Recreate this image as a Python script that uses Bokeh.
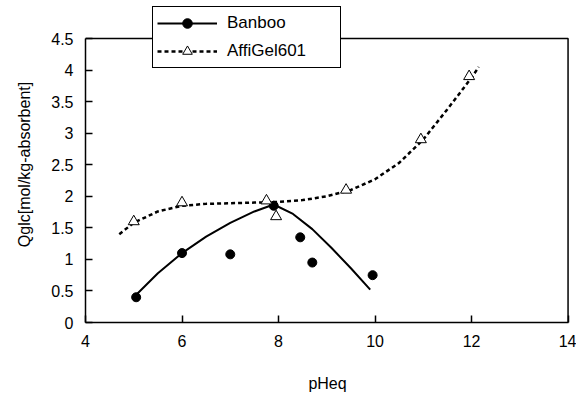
from bokeh.plotting import figure
from bokeh.models import Range1d, FixedTicker, Legend, LegendItem
from bokeh.embed import file_html
from bokeh.resources import INLINE

# Banboo measured points
banboo_x = [5.05, 6.0, 7.0, 7.9, 8.45, 8.7, 9.95]
banboo_y = [0.40, 1.10, 1.08, 1.85, 1.35, 0.95, 0.75]
# Banboo fitted curve (traced)
banboo_fit_x = [5.0, 5.5, 6.0, 6.5, 7.0, 7.5, 7.9, 8.3, 8.7, 9.1, 9.5, 9.9]
banboo_fit_y = [0.40, 0.78, 1.10, 1.36, 1.58, 1.76, 1.87, 1.72, 1.48, 1.18, 0.86, 0.52]

# AffiGel601 measured points
affi_x = [5.0, 6.0, 7.75, 7.95, 9.4, 10.95, 11.95]
affi_y = [1.60, 1.90, 1.93, 1.68, 2.10, 2.90, 3.90]
# AffiGel601 fitted curve (traced)
affi_fit_x = [4.7, 5.0, 5.5, 6.0, 6.5, 7.0, 7.5, 8.0, 8.5, 9.0, 9.5, 10.0, 10.5, 11.0, 11.5, 12.0, 12.15]
affi_fit_y = [1.40, 1.58, 1.76, 1.85, 1.88, 1.89, 1.90, 1.91, 1.94, 2.00, 2.10, 2.27, 2.53, 2.90, 3.38, 3.88, 4.05]

x_ticks = [4, 6, 8, 10, 12, 14]
y_ticks = [0, 0.5, 1, 1.5, 2, 2.5, 3, 3.5, 4, 4.5]

FONT = "Liberation Sans"

# frame extends above y=4.5 so that the legend (which overlaps the plot's top border) is not clipped
p = figure(width=576, height=396, output_backend="svg", toolbar_location=None,
           x_range=Range1d(4, 14.03), y_range=Range1d(0, 5.008),
           min_border_left=85, min_border_right=7, min_border_top=6, min_border_bottom=74)
p.grid.visible = False
p.outline_line_color = None
p.background_fill_color = "white"
p.border_fill_color = "white"

for ax in (p.xaxis[0], p.yaxis[0]):
    ax.major_tick_in = 7
    ax.major_tick_out = 0
    ax.minor_tick_line_color = None
    ax.axis_line_color = "black"
    ax.axis_line_width = 1.5
    ax.major_tick_line_width = 1.5
    ax.major_label_text_font = FONT
    ax.major_label_text_font_size = "16px"
    ax.major_label_text_color = "black"
    ax.axis_label_text_font = FONT
    ax.axis_label_text_font_size = "16px"
    ax.axis_label_text_font_style = "normal"
    ax.axis_label_text_color = "black"

p.xaxis.ticker = FixedTicker(ticks=x_ticks)
p.yaxis.ticker = FixedTicker(ticks=y_ticks)
p.xaxis.bounds = (x_ticks[0], x_ticks[-1])
p.yaxis.bounds = (y_ticks[0], y_ticks[-1])
p.xaxis.major_label_standoff = 12
p.yaxis.major_label_standoff = 12
p.xaxis.axis_label = "pHeq"
p.yaxis.axis_label = "Qglc[mol/kg-absorbent]"
p.xaxis.axis_label_standoff = 25
p.yaxis.axis_label_standoff = 15

# top and right borders of the plot box
p.line([x_ticks[0], x_ticks[-1], x_ticks[-1]], [y_ticks[-1], y_ticks[-1], y_ticks[0]],
       line_color="black", line_width=1.5)

b_line = p.line(banboo_fit_x, banboo_fit_y, line_color="black", line_width=2)
b_pts = p.scatter(banboo_x, banboo_y, marker="circle", size=9, fill_color="black", line_color="black")

a_line = p.line(affi_fit_x, affi_fit_y, line_color="black", line_width=2.5, line_dash="4 3")
a_pts = p.scatter(affi_x, affi_y, marker="triangle", size=11, fill_color="white", line_color="black", line_width=1)

legend = Legend(items=[
    LegendItem(label="Banboo", renderers=[b_line, b_pts]),
    LegendItem(label="AffiGel601", renderers=[a_line, a_pts]),
], location=(67, 254))
legend.label_text_font = FONT
legend.label_text_font_size = "17px"
legend.label_text_color = "black"
legend.glyph_width = 60
legend.glyph_height = 24
legend.label_standoff = 10
legend.label_width = 109
legend.label_height = 24
legend.padding = 4
legend.margin = 0
legend.spacing = 4
legend.border_line_color = "black"
legend.border_line_width = 1.5
legend.border_line_alpha = 1
legend.background_fill_color = "white"
legend.background_fill_alpha = 1
p.add_layout(legend, "center")

open("out.html", "w").write(file_html(p, INLINE))
